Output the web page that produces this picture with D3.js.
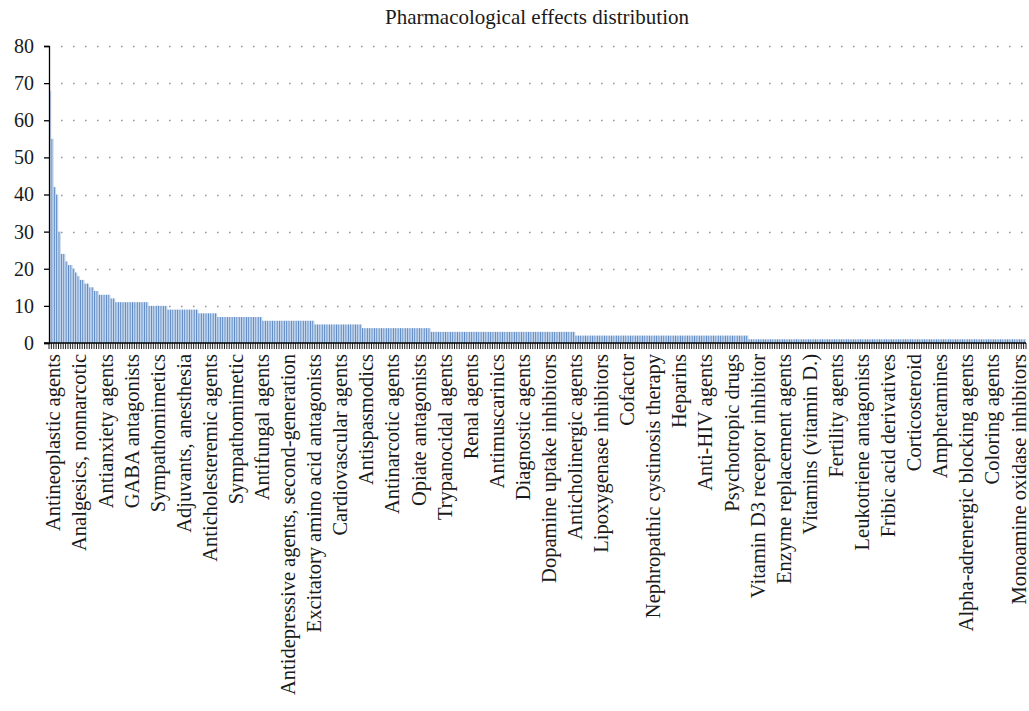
<!DOCTYPE html>
<html>
<head>
<meta charset="utf-8">
<script src="https://cdn.jsdelivr.net/npm/d3@7"></script>
<style>
  html, body { margin: 0; padding: 0; background: #fff; }
  svg { display: block; }
  text { font-family: "Liberation Serif", "DejaVu Serif", serif; fill: #1a1a1a; }
</style>
</head>
<body>
<svg id="chart" width="1029" height="711"></svg>
<script>
const title = "Pharmacological effects distribution";

// Visible category labels (every 11th category is labelled)
const tickLabels = [
  "Antineoplastic agents", "Analgesics, nonnarcotic", "Antianxiety agents", "GABA antagonists",
  "Sympathomimetics", "Adjuvants, anesthesia", "Anticholesteremic agents", "Sympathomimetic",
  "Antifungal agents", "Antidepressive agents, second-generation", "Excitatory amino acid antagonists",
  "Cardiovascular agents", "Antispasmodics", "Antinarcotic agents", "Opiate antagonists",
  "Trypanocidal agents", "Renal agents", "Antimuscarinics", "Diagnostic agents",
  "Dopamine uptake inhibitors", "Anticholinergic agents", "Lipoxygenase inhibitors", "Cofactor",
  "Nephropathic cystinosis therapy", "Heparins", "Anti-HIV agents", "Psychotropic drugs",
  "Vitamin D3 receptor inhibitor", "Enzyme replacement agents", "Vitamins (vitamin D.)",
  "Fertility agents", "Leukotriene antagonists", "Fribic acid derivatives", "Corticosteroid",
  "Amphetamines", "Alpha-adrenergic blocking agents", "Coloring agents", "Monoamine oxidase inhibitors"
];
const labelStep = 11;

// Counts per pharmacological effect (sorted descending)
const values = [
  68,55,42,40,30,24,24,22,21,21,20,19,18,17,17,16,16,15,15,14,14,
  13,13,13,13,13,
  12,12,
  11,11,11,11,11,11,11,11,11,11,11,11,11,11,
  10,10,10,10,10,10,10,10,
  9,9,9,9,9,9,9,9,9,9,9,9,9,
  8,8,8,8,8,8,8,8,
  7,7,7,7,7,7,7,7,7,7, 7,7,7,7,7,7,7,7,7,
  6,6,6,6,6,6,6,6,6,6, 6,6,6,6,6,6,6,6,6,6, 6,6,
  5,5,5,5,5,5,5,5,5,5, 5,5,5,5,5,5,5,5,5,5,
  4,4,4,4,4,4,4,4,4,4, 4,4,4,4,4,4,4,4,4,4, 4,4,4,4,4,4,4,4,4,
  3,3,3,3,3,3,3,3,3,3, 3,3,3,3,3,3,3,3,3,3, 3,3,3,3,3,3,3,3,3,3,
  3,3,3,3,3,3,3,3,3,3, 3,3,3,3,3,3,3,3,3,3, 3,3,3,3,3,3,3,3,3,3, 3,
  2,2,2,2,2,2,2,2,2,2, 2,2,2,2,2,2,2,2,2,2, 2,2,2,2,2,2,2,2,2,2,
  2,2,2,2,2,2,2,2,2,2, 2,2,2,2,2,2,2,2,2,2, 2,2,2,2,2,2,2,2,2,2,
  2,2,2,2,2,2,2,2,2,2, 2,2,2,
  1,1,1,1,1,1,1,1,1,1, 1,1,1,1,1,1,1,1,1,1, 1,1,1,1,1,1,1,1,1,1,
  1,1,1,1,1,1,1,1,1,1, 1,1,1,1,1,1,1,1,1,1, 1,1,1,1,1,1,1,1,1,1,
  1,1,1,1,1,1,1,1,1,1, 1,1,1,1,1,1,1,1,1,1, 1,1,1,1,1,1,1,1,1,1,
  1,1,1,1,1,1,1,1,1,1, 1,1,1,1,1,1,1,1,1,1, 1,1,1,1,1,1,1
];
const yTicks = [0, 10, 20, 30, 40, 50, 60, 70, 80];

const svg = d3.select("#chart");
const mLeft = 49, mRight = 1026, mTop = 46, mBottom = 343;

const idx = values.map((d, i) => i);
const x = d3.scaleBand().domain(idx).range([mLeft, mRight]).paddingInner(0).paddingOuter(0);
const y = d3.scaleLinear().domain([0, 80]).range([mBottom, mTop]);

// gradient for bars
const defs = svg.append("defs");
const grad = defs.append("linearGradient").attr("id", "barGrad")
  .attr("x1", "0").attr("x2", "1").attr("y1", "0").attr("y2", "0");
grad.append("stop").attr("offset", "0").attr("stop-color", "#4a7dbd");
grad.append("stop").attr("offset", "0.3").attr("stop-color", "#6891c8");
grad.append("stop").attr("offset", "0.5").attr("stop-color", "#b7cde9");
grad.append("stop").attr("offset", "1").attr("stop-color", "#d3e1f3");

// title
svg.append("text")
  .attr("x", 537).attr("y", 24)
  .attr("text-anchor", "middle")
  .style("font-size", "21px")
  .text(title);

// gridlines (dotted)
svg.append("g")
  .selectAll("line")
  .data(yTicks.filter(t => t > 0))
  .join("line")
  .attr("x1", mLeft + 12).attr("x2", mRight)
  .attr("y1", d => Math.round(y(d)) + 0.5).attr("y2", d => Math.round(y(d)) + 0.5)
  .attr("stroke", "#999")
  .attr("stroke-width", 1.6)
  .attr("stroke-dasharray", "1.6,10.4");

// bars
svg.append("g")
  .selectAll("rect")
  .data(values)
  .join("rect")
  .attr("x", (d, i) => x(i))
  .attr("width", x.bandwidth())
  .attr("y", d => y(d))
  .attr("height", d => y(0) - y(d))
  .attr("fill", "url(#barGrad)");

// y axis
const yAxis = d3.axisLeft(y).tickValues(yTicks).tickSize(5).tickPadding(10).tickFormat(d3.format("d"));
const gy = svg.append("g").attr("transform", `translate(${mLeft},0)`).call(yAxis);
gy.select(".domain").attr("stroke", "#000").attr("stroke-width", 1.3);
gy.selectAll(".tick line").attr("stroke", "#000").attr("stroke-width", 1.3);
gy.selectAll(".tick text").style("font-size", "20px").attr("fill", "#1a1a1a");

// x axis tick marks (one per category, at boundaries)
const tickG = svg.append("g");
tickG.selectAll("line")
  .data(idx.concat([values.length]))
  .join("line")
  .attr("x1", i => (i < values.length ? x(i) : mRight))
  .attr("x2", i => (i < values.length ? x(i) : mRight))
  .attr("y1", mBottom).attr("y2", mBottom + 6)
  .attr("stroke", "#000").attr("stroke-width", 0.9);
svg.append("line")
  .attr("x1", mLeft - 5).attr("x2", mRight)
  .attr("y1", mBottom).attr("y2", mBottom)
  .attr("stroke", "#000").attr("stroke-width", 1.3);

// category labels
const labelled = tickLabels.map((t, k) => ({ t, i: k * labelStep }));
svg.append("g")
  .selectAll("text")
  .data(labelled)
  .join("text")
  .attr("transform", d => `translate(${x(d.i) + x.bandwidth() / 2 + 3},${mBottom + 11}) rotate(-90)`)
  .attr("text-anchor", "end")
  .attr("dy", "0.35em")
  .style("font-size", "20.5px")
  .text(d => d.t);
</script>
</body>
</html>
